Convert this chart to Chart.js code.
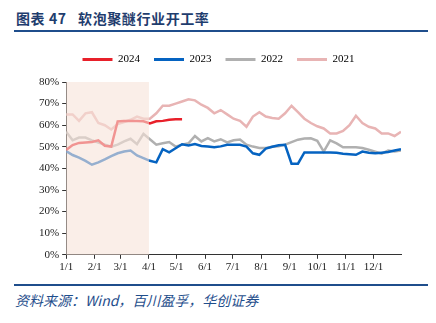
<!DOCTYPE html>
<html>
<head>
<meta charset="utf-8">
<script src="https://cdn.jsdelivr.net/npm/chart.js@4/dist/chart.umd.min.js"></script>
<style>
  body { margin: 0; background: #fff; width: 436px; height: 323px; position: relative; overflow: hidden; }
  #title { position: absolute; left: 16px; top: 8px; font: bold 14px "Noto Sans CJK SC", sans-serif; color: #1F3D6E; letter-spacing: 0.6px; white-space: pre; }
  .rule { position: absolute; left: 14px; width: 414px; height: 2px; background: #1F4E8C; }
  #src { position: absolute; left: 15px; top: 290px; font: italic 14px "Noto Sans CJK SC", sans-serif; color: #1F4E8C; }
  #wrap { position: absolute; left: 0; top: 40px; }
</style>
</head>
<body>
<div id="title">图表 47   软泡聚醚行业开工率</div>
<div class="rule" style="top:30px"></div>
<div id="wrap"><canvas id="c" width="436" height="240"></canvas></div>
<div class="rule" style="top:284px"></div>
<div id="src">资料来源：Wind，百川盈孚，华创证券</div>
<script>
// weekly readings, week i falls on day 7*i of the year
const years = ['2024', '2023', '2022', '2021'];
const colors = ['#E8202A', '#0563C1', '#B0B0B0', '#E8B4B4'];

const rate2024 = [48.5, 50.8, 51.8, 52, 52.2, 53, 50.5, 50.1, 61.8, 62, 62, 62, 61.8, 60.8, 61.8, 62, 62.5, 62.7, 62.7];
const rate2023 = [48, 46.2, 45, 43.5, 41.7, 42.8, 44.2, 45.7, 47, 47.8, 48.3, 46, 44.8, 43.5, 42.8, 48.9, 47.4, 49.3, 51.2, 50.6,
  51.3, 50.4, 50.1, 49.8, 50.2, 50.9, 50.9, 50.9, 50.1, 47, 46.3, 49.2, 50, 50.7, 50.9, 42.2, 42.2, 47.4, 47.4, 47.4,
  47.4, 47.4, 47.2, 46.8, 46.6, 46.3, 47.8, 47.2, 47, 47.3, 47.6, 48.3, 48.9];
const rate2022 = [57, 53, 54.3, 54.3, 53, 52, 51, 50, 51, 52.5, 53.7, 51.2, 56, 53.5, 51, 51.6, 52.2, 50.1, 51, 51.6,
  55, 52.5, 54, 52.5, 53.5, 52, 53, 53.4, 51, 50.1, 49.5, 49.5, 50, 50.3, 51, 52.2, 53.3, 53.8, 53.9, 52.8,
  47.8, 53, 51.6, 49.8, 49.8, 49.8, 49.4, 48.6, 47.7, 46.8, 48.3, 47.8, 48.3];
const rate2021 = [65, 65, 62, 65.5, 66, 61, 60, 58, 60.5, 61.5, 62.5, 64, 63, 63, 65.5, 69, 69, 70, 71, 72,
  71.5, 69.5, 68, 65.5, 67, 65, 63, 62, 59.3, 64, 66, 64, 63.3, 63, 65.5, 69, 66, 63, 61, 59.5,
  58.5, 56.2, 56.2, 57.3, 60, 64.4, 61, 59.3, 58.5, 56.2, 56.2, 55, 57];

const monthDays = [0, 31, 59, 90, 120, 151, 181, 212, 243, 273, 304, 334];
const monthLabels = ['1/1', '2/1', '3/1', '4/1', '5/1', '6/1', '7/1', '8/1', '9/1', '10/1', '11/1', '12/1'];
const shadeFrom = 0, shadeTo = 90;

const toPoints = arr => arr.map((v, i) => ({ x: i * 7, y: v }));
const series = [rate2024, rate2023, rate2022, rate2021];

const shade = {
  id: 'shade',
  afterDatasetsDraw(chart) {
    const { ctx, chartArea, scales } = chart;
    const x0 = scales.x.getPixelForValue(shadeFrom);
    const x1 = scales.x.getPixelForValue(shadeTo);
    ctx.save();
    ctx.fillStyle = 'rgba(247,227,217,0.6)';
    ctx.fillRect(x0, chartArea.top, x1 - x0, chartArea.bottom - chartArea.top);
    ctx.restore();
  }
};

// a bit more room between legend and plot
const legendGap = {
  id: 'legendGap',
  beforeInit(chart) {
    const fit = chart.legend.fit;
    chart.legend.fit = function () {
      fit.call(this);
      this.height += 7;
    };
  }
};

const tickFont = { family: '"Liberation Serif", serif', size: 11 };

new Chart(document.getElementById('c'), {
  type: 'line',
  data: {
    datasets: years.map((y, k) => ({
      label: y,
      data: toPoints(series[k]),
      borderColor: colors[k],
      backgroundColor: colors[k],
      borderWidth: 2.5,
      pointRadius: 0,
      tension: 0,
      fill: false
    }))
  },
  options: {
    responsive: false,
    animation: false,
    layout: { padding: { left: 36, right: 35, top: 0, bottom: 4 } },
    plugins: {
      tooltip: { enabled: false },
      legend: {
        position: 'top',
        labels: {
          font: tickFont,
          color: '#222',
          boxWidth: 30,
          boxHeight: 3,
          padding: 14,
          generateLabels: chart => years.map((y, k) => ({
            text: y, fillStyle: colors[k], strokeStyle: colors[k], lineWidth: 0, datasetIndex: k
          }))
        }
      }
    },
    scales: {
      x: {
        type: 'linear',
        min: 0,
        max: 364,
        afterBuildTicks: axis => { axis.ticks = monthDays.map(v => ({ value: v })); },
        ticks: {
          font: tickFont,
          color: '#222',
          maxRotation: 0,
          autoSkip: false,
          padding: 2,
          callback: v => monthLabels[monthDays.indexOf(v)]
        },
        grid: { drawOnChartArea: false, color: '#333', tickLength: 4 },
        border: { color: '#333', width: 1 }
      },
      y: {
        min: 0,
        max: 80,
        ticks: {
          stepSize: 10,
          font: tickFont,
          color: '#222',
          padding: 3,
          callback: v => v + '%'
        },
        grid: { drawOnChartArea: false, color: '#333', tickLength: 4 },
        border: { color: '#333', width: 1 }
      }
    }
  },
  plugins: [shade, legendGap]
});
</script>
</body>
</html>
